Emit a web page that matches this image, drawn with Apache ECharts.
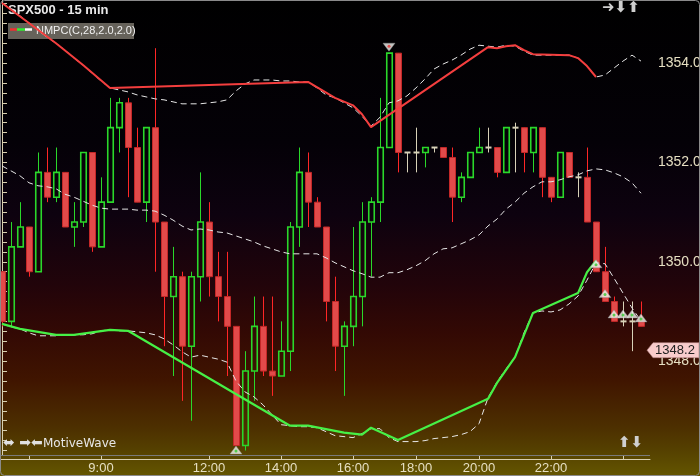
<!DOCTYPE html>
<html><head><meta charset="utf-8">
<script src="https://cdn.jsdelivr.net/npm/echarts@6/dist/echarts.min.js"></script>
<style>html,body{margin:0;padding:0;background:#000;}#c{width:700px;height:476px;}</style>
</head><body><div id="c"></div>
<script>
// ---- data (bar index = position in arrays) ----
const opens  = [1349.8,1348.8,1350.3,1350.7,1349.8,1351.8,1351.3,1351.8,1350.7,1350.8,1352.2,1350.3,1351.2,1352.7,1353.2,1352.3,1351.2,1352.7,1350.8,1349.3,1349.7,1348.3,1349.7,1350.8,1349.7,1349.3,1348.7,1346.3,1347.8,1348.7,1347.8,1347.7,1348.2,1350.7,1351.8,1351.2,1350.7,1349.2,1348.3,1348.7,1349.3,1350.8,1351.2,1352.3,1354.2,1352.2,1352.2,1352.2,1352.3,1352.3,1352.1,1351.3,1351.7,1352.2,1352.3,1352.3,1351.8,1352.7,1352.7,1352.2,1352.7,1351.7,1351.3,1352.2,1351.7,1351.7,1350.8,1349.8,1349.2,1348.8,1348.8,1348.8];
const highs  = [1349.8,1350.8,1351.2,1350.7,1352.2,1352.3,1352.3,1351.8,1351.2,1352.2,1352.2,1351.7,1353.3,1353.3,1353.3,1352.7,1352.7,1354.3,1350.8,1350.3,1349.8,1349.8,1351.8,1351.2,1350.2,1350.2,1348.7,1348.2,1349.3,1349.3,1349.3,1348.8,1350.8,1352.3,1352.2,1351.3,1350.7,1349.7,1348.8,1350.7,1351.2,1351.3,1353.3,1354.2,1354.2,1352.2,1352.7,1352.3,1352.3,1352.3,1352.3,1351.8,1352.2,1352.7,1352.7,1352.3,1352.7,1352.8,1352.7,1352.7,1352.7,1351.7,1352.2,1352.2,1351.8,1352.3,1350.8,1350.3,1349.3,1349.2,1349.2,1349.2];
const lows   = [1348.7,1348.7,1350.3,1349.7,1349.8,1351.2,1351.2,1350.7,1350.3,1350.7,1350.2,1350.3,1351.2,1352.2,1351.3,1351.2,1350.8,1349.8,1348.3,1347.7,1347.2,1346.8,1349.2,1349.3,1348.8,1347.7,1346.3,1346.2,1347.2,1347.7,1347.3,1347.7,1347.8,1350.3,1350.7,1350.7,1348.8,1347.8,1347.3,1348.3,1348.7,1349.7,1350.8,1352.3,1351.8,1351.8,1351.8,1351.9,1352.2,1352.1,1350.8,1351.2,1351.7,1352.2,1352.2,1351.7,1351.8,1351.8,1351.8,1351.8,1351.3,1351.2,1351.3,1351.7,1351.3,1350.8,1349.8,1349.2,1348.8,1348.7,1348.2,1348.7];
const closes = [1348.8,1350.3,1350.7,1349.8,1351.8,1351.3,1351.8,1350.7,1350.8,1352.2,1350.3,1351.2,1352.7,1353.2,1352.3,1351.2,1352.7,1350.8,1349.3,1349.7,1348.3,1349.7,1350.8,1349.7,1349.3,1348.7,1346.3,1347.8,1348.7,1347.8,1347.7,1348.2,1350.7,1351.8,1351.2,1350.7,1349.2,1348.3,1348.7,1349.3,1350.8,1351.2,1352.3,1354.2,1352.2,1352.2,1352.2,1352.3,1352.3,1352.1,1351.3,1351.7,1352.2,1352.3,1352.3,1351.8,1352.7,1352.7,1352.2,1352.7,1351.7,1351.3,1352.2,1351.7,1351.7,1350.8,1349.8,1349.2,1348.8,1348.8,1348.8,1348.7];

// envelope bands (dashed)
const bandUpper = [1355.21,1355.09,1354.95,1354.81,1354.66,1354.52,1354.40,1354.26,1354.10,1353.96,1353.80,1353.64,1353.50,1353.46,1353.42,1353.36,1353.32,1353.28,1353.26,1353.22,1353.18,1353.18,1353.18,1353.20,1353.22,1353.26,1353.44,1353.58,1353.66,1353.66,1353.66,1353.64,1353.64,1353.62,1353.62,1353.50,1353.36,1353.30,1353.20,1353.10,1352.93,1352.73,1352.91,1353.20,1353.24,1353.34,1353.50,1353.68,1353.88,1353.98,1354.06,1354.16,1354.28,1354.36,1354.34,1354.32,1354.36,1354.34,1354.24,1354.16,1354.16,1354.16,1354.16,1354.16,1354.10,1353.94,1353.72,1353.76,1353.90,1354.04,1354.16,1354.04];
const bandMid   = [1351.93,1351.83,1351.73,1351.59,1351.53,1351.51,1351.47,1351.36,1351.30,1351.22,1351.14,1351.08,1351.06,1351.06,1351.06,1351.04,1351.04,1351.02,1350.94,1350.84,1350.72,1350.64,1350.66,1350.64,1350.60,1350.58,1350.52,1350.46,1350.40,1350.32,1350.26,1350.20,1350.16,1350.16,1350.16,1350.16,1350.08,1349.98,1349.90,1349.82,1349.76,1349.69,1349.69,1349.78,1349.78,1349.84,1349.92,1350.02,1350.16,1350.26,1350.28,1350.36,1350.44,1350.54,1350.72,1350.86,1351.06,1351.20,1351.38,1351.51,1351.61,1351.61,1351.65,1351.71,1351.75,1351.83,1351.87,1351.85,1351.79,1351.71,1351.59,1351.38];
const bandLower = [1348.75,1348.69,1348.65,1348.57,1348.51,1348.51,1348.51,1348.53,1348.53,1348.53,1348.55,1348.61,1348.63,1348.61,1348.61,1348.59,1348.57,1348.53,1348.45,1348.33,1348.19,1348.08,1348.12,1348.08,1348.04,1347.98,1347.60,1347.38,1347.28,1347.12,1346.92,1346.72,1346.70,1346.68,1346.68,1346.66,1346.58,1346.50,1346.48,1346.46,1346.54,1346.64,1346.64,1346.46,1346.38,1346.38,1346.38,1346.40,1346.44,1346.46,1346.48,1346.52,1346.58,1346.74,1347.26,1347.58,1347.84,1348.08,1348.57,1348.97,1349.01,1348.99,1349.03,1349.15,1349.31,1349.63,1349.98,1349.96,1349.67,1349.37,1349.07,1348.81];

// pivot lines (solid)
const resistIdx = [0,6,9,12,34,37,39,40,41,54,55,56,57,58,59,63,64,65,66];
const resistVal = [1355.21,1354.40,1353.96,1353.50,1353.62,1353.30,1353.15,1352.97,1352.71,1354.32,1354.30,1354.34,1354.36,1354.26,1354.18,1354.16,1354.10,1353.94,1353.72];
const supportIdx = [0,2,6,8,12,14,32,34,38,40,41,44,54,55,57,59,64,65,66];
const supportVal = [1348.75,1348.65,1348.53,1348.53,1348.63,1348.61,1346.70,1346.70,1346.56,1346.52,1346.66,1346.41,1347.24,1347.56,1348.08,1348.97,1349.37,1349.79,1350.02];

// signal markers
const buyIdx = [26,66,67,68,69,70,71];
const buyVal = [1346.21,1349.96,1349.36,1348.95,1348.95,1348.95,1348.87];
const sellIdx = [43];
const sellVal = [1354.32];

const lastPrice = 1348.2;

// axes
const timeTickIdx = [3,11,23,31,39,46,53,61,69];
const timeLabelIdx = [11,23,31,39,46,53,61];
const timeLabels = ['9:00','12:00','14:00','16:00','18:00','20:00','22:00'];
const priceLabels = [1348,1350,1352,1354];
const priceTicks = [];
for (let t = 1346.2; t < 1355.3; t += 0.2) priceTicks.push(Math.round(t*10)/10);

// ---- chart ----
const candleData = opens.map((o,i)=>[i,o,closes[i],lows[i],highs[i]]);
const chart = echarts.init(document.getElementById('c'), null, {renderer:'canvas'});

function renderCandle(params, api){
  const k=api.value(0), o=api.value(1), c=api.value(2), l=api.value(3), h=api.value(4);
  const pO=api.coord([k,o]), pC=api.coord([k,c]), pL=api.coord([k,l]), pH=api.coord([k,h]);
  const x = Math.round(pO[0]) + 0.5;
  const children=[];
  if (Math.abs(c-o) < 1e-9) {
    const col='#d8d2b8';
    children.push({type:'line',shape:{x1:x,y1:pH[1],x2:x,y2:pL[1]},style:{stroke:col,lineWidth:1}});
    children.push({type:'line',shape:{x1:x-3,y1:pO[1],x2:x+3,y2:pO[1]},style:{stroke:col,lineWidth:2}});
  } else if (c > o) {
    const col='#2ad82a';
    const top=pC[1], bot=pO[1];
    if (pH[1] < top) children.push({type:'line',shape:{x1:x,y1:pH[1],x2:x,y2:top},style:{stroke:col,lineWidth:1}});
    if (pL[1] > bot) children.push({type:'line',shape:{x1:x,y1:bot,x2:x,y2:pL[1]},style:{stroke:col,lineWidth:1}});
    children.push({type:'rect',shape:{x:x-2.75,y:top,width:5.5,height:bot-top},style:{fill:'none',stroke:col,lineWidth:1.6}});
  } else {
    const top=pO[1], bot=pC[1];
    children.push({type:'line',shape:{x1:x,y1:pH[1],x2:x,y2:pL[1]},style:{stroke:'#ff2626',lineWidth:1}});
    children.push({type:'rect',shape:{x:x-3,y:top,width:6,height:Math.max(bot-top,1)},style:{fill:'#e24a4a',stroke:'#c42828',lineWidth:1}});
  }
  return {type:'group',children};
}

const dashStyle = {color:'#e6e6e6',width:1,type:[6,4]};

chart.setOption({
  animation:false,
  backgroundColor:{type:'linear',x:0,y:0,x2:0,y2:1,colorStops:[
    {offset:0,color:'#000000'},{offset:0.3,color:'#040107'},{offset:0.45,color:'#0d020f'},
    {offset:0.6,color:'#22040a'},{offset:0.7,color:'#330904'},{offset:0.8,color:'#401500'},
    {offset:0.9,color:'#4d3000'},{offset:0.95,color:'#564200'},{offset:1,color:'#645600'}]},
  grid:{left:0,top:0,width:650,height:455,containLabel:false,outerBoundsMode:'none',show:false},
  xAxis:{type:'value',min:-2/9,max:72,position:'bottom',offset:4,
    axisLine:{show:true,onZero:false,lineStyle:{color:'#d8d0b0',width:1}},
    axisTick:{show:true,inside:true,length:4,customValues:timeTickIdx,lineStyle:{color:'#d8d0b0'}},
    axisLabel:{show:true,customValues:timeLabelIdx,margin:3,color:'#e6dfc2',fontSize:13,fontFamily:'Liberation Sans',
      formatter:v=>{const i=timeLabelIdx.indexOf(Math.round(v));return i>=0?timeLabels[i]:'';}},
    splitLine:{show:false}},
  yAxis:{type:'value',position:'right',min:1346.11,max:1355.27,
    axisLine:{show:true,lineStyle:{color:'#d8d0b0',width:1}},
    axisTick:{show:true,length:5,customValues:priceTicks,lineStyle:{color:'#d8d0b0'}},
    axisLabel:{show:true,customValues:priceLabels,margin:8,color:'#e6dfc2',fontSize:14,fontFamily:'Liberation Sans',
      formatter:v=>v.toFixed(1)},
    splitLine:{show:false}},
  series:[
    {type:'custom',name:'candles',renderItem:renderCandle,data:candleData,encode:{x:0,y:[1,2,3,4]},clip:true,z:2},
    {type:'line',name:'upper',data:bandUpper.map((v,i)=>[i,v]),showSymbol:false,symbol:'none',lineStyle:dashStyle,z:3,clip:true},
    {type:'line',name:'mid',data:bandMid.map((v,i)=>[i,v]),showSymbol:false,symbol:'none',lineStyle:dashStyle,z:3},
    {type:'line',name:'lower',data:bandLower.map((v,i)=>[i,v]),showSymbol:false,symbol:'none',lineStyle:dashStyle,z:3},
    {type:'line',name:'resist',data:resistIdx.map((k,i)=>[k,resistVal[i]]),symbol:'none',lineStyle:{color:'#f43e3e',width:2},z:4,clip:true},
    {type:'line',name:'support',data:supportIdx.map((k,i)=>[k,supportVal[i]]),symbol:'none',lineStyle:{color:'#46f046',width:2.2},z:4,
      markPoint:{symbol:'path://M0,6 L6,0 L52,0 L52,12 L6,12 Z',symbolSize:[52,15],symbolKeepAspect:false,
        symbolOffset:[23,-1],silent:true,
        itemStyle:{color:'#f8cccc',borderColor:'#b08080',borderWidth:0.5},
        label:{show:true,position:'inside',formatter:'{c}',color:'#222',fontSize:13,fontFamily:'Liberation Sans',offset:[2,0]},
        data:[{coord:[72,lastPrice],value:lastPrice.toFixed(1)}]}},
    {type:'scatter',name:'buy',data:buyIdx.map((k,i)=>[k,buyVal[i]]),symbol:'triangle',symbolSize:[12,8],
      itemStyle:{color:'#f4f4f0',borderColor:'#909090',borderWidth:0.5},z:5},
    {type:'scatter',name:'buyDot',data:buyIdx.map((k,i)=>[k,buyVal[i]]),symbol:'circle',symbolSize:3,symbolOffset:[0,1],
      itemStyle:{color:'#30cc30'},z:6},
    {type:'scatter',name:'sell',data:sellIdx.map((k,i)=>[k,sellVal[i]]),symbol:'triangle',symbolRotate:180,symbolSize:[12,8],
      itemStyle:{color:'#f4f4f0',borderColor:'#909090',borderWidth:0.5},z:5},
    {type:'scatter',name:'sellDot',data:sellIdx.map((k,i)=>[k,sellVal[i]]),symbol:'circle',symbolSize:3,symbolOffset:[0,-1],
      itemStyle:{color:'#e83030'},z:6}
  ],
  graphic:[
    {type:'rect',z:100,silent:true,shape:{x:0.5,y:0.5,width:699,height:475,r:4},style:{fill:'none',stroke:'#8a8a8a',lineWidth:1}},
    {type:'line',z:1,silent:true,shape:{x1:0,y1:455.5,x2:650,y2:455.5},style:{stroke:'#7a7a7a',lineWidth:1}},
    {type:'text',z:1,left:8,top:4,style:{text:'SPX500 - 15 min',font:'bold 13px "Liberation Sans"',fill:'#e8e8e8'}},
    {type:'rect',z:1,shape:{x:8,y:23,width:126,height:16},style:{fill:'#66625a'}},
    {type:'line',z:1,shape:{x1:10,y1:29.5,x2:17,y2:29.5},style:{stroke:'#ee3030',lineWidth:2.5}},
    {type:'line',z:1,shape:{x1:17,y1:29.5,x2:25,y2:29.5},style:{stroke:'#30ee30',lineWidth:2.5}},
    {type:'line',z:1,shape:{x1:25,y1:29.5,x2:32,y2:29.5},style:{stroke:'#ffffff',lineWidth:2.5}},
    {type:'text',z:1,left:36,top:25,style:{text:'NMPC(C,28,2.0,2.0)',font:'11px "Liberation Sans"',fill:'#f0f0f0'}},
    {type:'text',z:1,left:602,top:1,style:{text:'➜⬇⬆',font:'bold 15px "DejaVu Sans"',fill:'#cfcfcf'}},
    {type:'text',z:1,left:3,top:436,style:{text:'⬌ ➡⬅',font:'14px "DejaVu Sans"',fill:'#e0e0e0'}},
    {type:'text',z:1,left:43,top:438,style:{text:'MotiveWave',font:'12px "DejaVu Sans"',fill:'#e6e6e6'}},
    {type:'text',z:1,left:618,top:436,style:{text:'⬆⬇',font:'bold 15px "DejaVu Sans"',fill:'#cfcfcf'}}
  ]
});
</script></body></html>
